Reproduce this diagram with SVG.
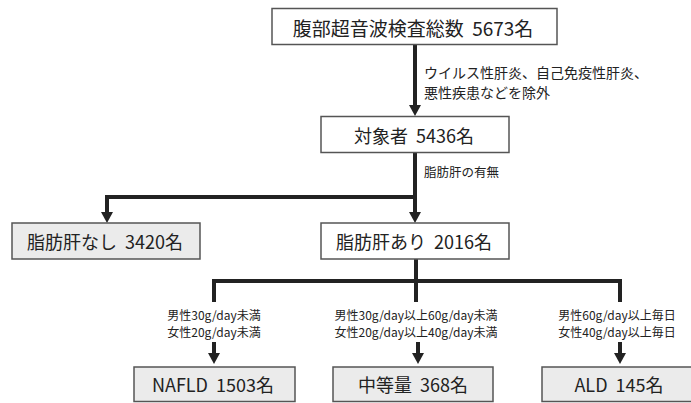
<svg xmlns="http://www.w3.org/2000/svg" width="691" height="403" viewBox="0 0 691 403">
<style>
  .box { stroke: #555; stroke-width: 1.5; fill: #fff; }
  .gray { fill: #ebebeb; }
  .bt { font-family: "Noto Sans CJK JP", "Noto Sans", sans-serif; font-size: 18px; fill: #222; text-anchor: middle; dominant-baseline: central; white-space: pre; }
  .lab { font-family: "Noto Sans CJK JP", "Noto Sans", sans-serif; font-size: 14px; fill: #222; }
  .cond { font-family: "Noto Sans CJK JP", "Noto Sans", sans-serif; font-size: 12px; fill: #222; text-anchor: middle; }
  .conn path { fill: none; stroke: #222; stroke-width: 4; stroke-linejoin: miter; }
</style>
<defs>
  <marker id="ah" markerUnits="userSpaceOnUse" markerWidth="14" markerHeight="14" refX="0" refY="6" orient="auto" overflow="visible">
    <path d="M0,0 L11,6 L0,12 z" fill="#222"/>
  </marker>
</defs>
<rect width="691" height="403" fill="#fff"/>

<g class="conn">
  <path d="M415,45 V105" marker-end="url(#ah)"/>
  <path d="M415,152 V212" marker-end="url(#ah)"/>
  <path d="M415,197 H107 V212" marker-end="url(#ah)"/>
  <path d="M416,259 V302"/>
  <path d="M214,302 V281 H620 V302"/>
  <path d="M214,342 V353" marker-end="url(#ah)"/>
  <path d="M418,342 V353" marker-end="url(#ah)"/>
  <path d="M620,342 V353" marker-end="url(#ah)"/>
</g>

<g id="labels">
  <text class="lab" x="424" y="78">ウイルス性肝炎、自己免疫性肝炎、</text>
  <text class="lab" x="424" y="98">悪性疾患などを除外</text>
  <text class="lab" x="424" y="177" style="font-size:12.5px">脂肪肝の有無</text>
  <text class="cond" x="214" y="320">男性30g/day未満</text>
  <text class="cond" x="214" y="337">女性20g/day未満</text>
  <text class="cond" x="416" y="320">男性30g/day以上60g/day未満</text>
  <text class="cond" x="416" y="337">女性20g/day以上40g/day未満</text>
  <text class="cond" x="617" y="320">男性60g/day以上毎日</text>
  <text class="cond" x="617" y="337">女性40g/day以上毎日</text>
</g>

<g id="total">
  <rect class="box" x="272" y="8.5" width="285" height="36"/>
  <text class="bt" x="413" y="27" style="font-size:19px">腹部超音波検査総数  5673名</text>
</g>
<g id="subjects">
  <rect class="box" x="321" y="116.5" width="188" height="36"/>
  <text class="bt" x="414" y="134.5">対象者  5436名</text>
</g>
<g id="no-fatty">
  <rect class="box gray" x="12" y="223" width="188" height="36"/>
  <text class="bt" x="105" y="241">脂肪肝なし  3420名</text>
</g>
<g id="fatty">
  <rect class="box" x="321" y="223" width="188" height="36"/>
  <text class="bt" x="414" y="241">脂肪肝あり  2016名</text>
</g>
<g id="nafld">
  <rect class="box gray" x="134" y="367" width="161" height="34.5"/>
  <text class="bt" x="213" y="384">NAFLD  1503名</text>
</g>
<g id="moderate">
  <rect class="box gray" x="333" y="367" width="160" height="34.5"/>
  <text class="bt" x="413" y="384">中等量  368名</text>
</g>
<g id="ald">
  <rect class="box gray" x="542" y="367" width="152" height="34.5"/>
  <text class="bt" x="619" y="384">ALD  145名</text>
</g>
</svg>
